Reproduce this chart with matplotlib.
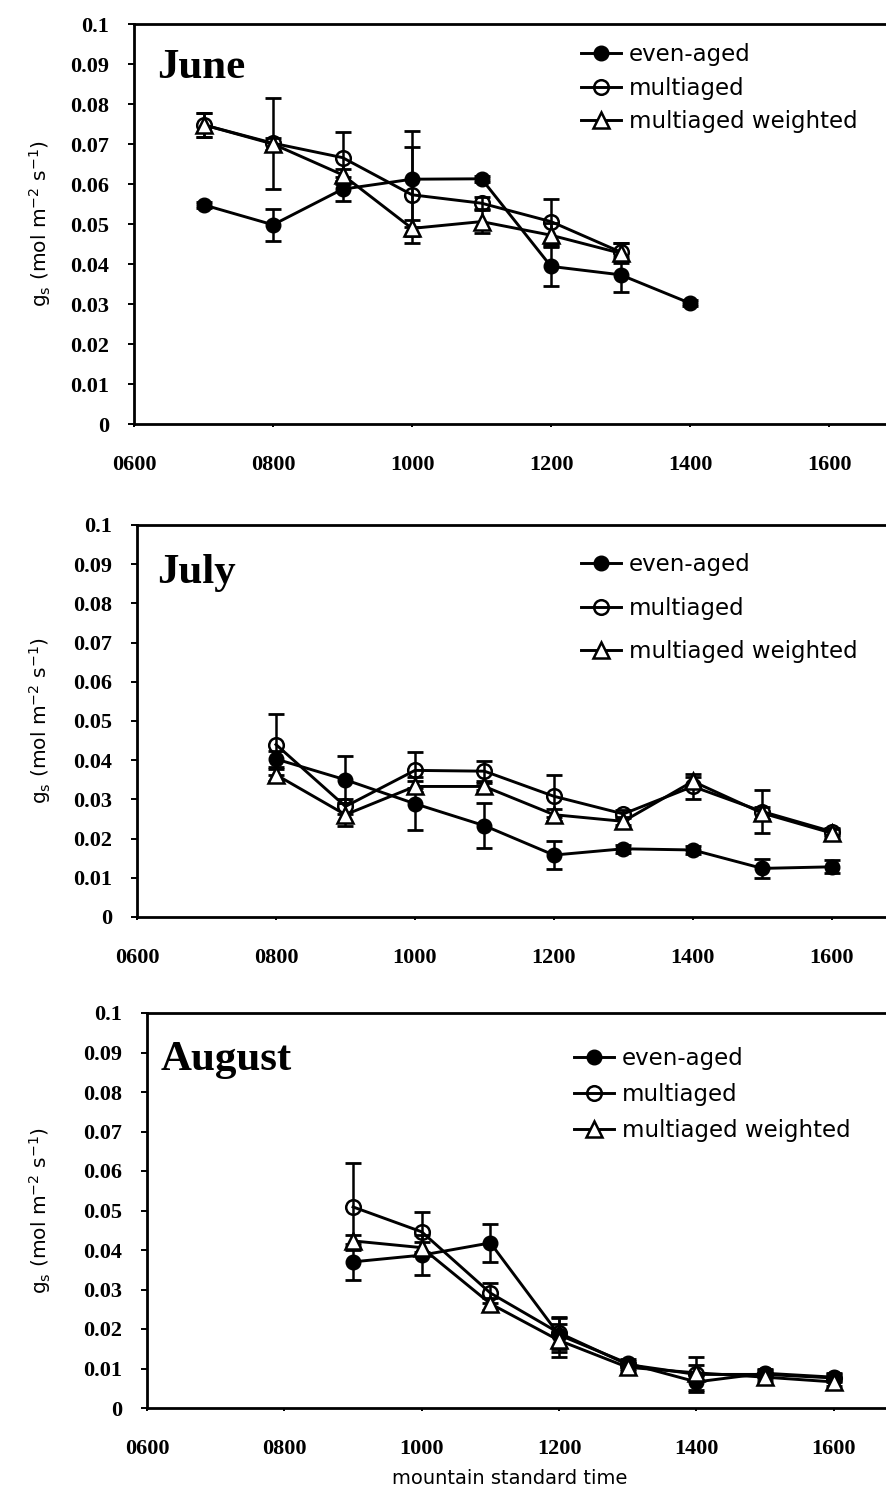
import matplotlib
matplotlib.use("Agg")
import matplotlib.pyplot as plt
from matplotlib.ticker import FixedLocator, FixedFormatter, FuncFormatter

# stomatal conductance, gs (mol m-2 s-1), by hour of day (mountain standard time)
labels = ["even-aged", "multiaged", "multiaged weighted"]

june_hours = [700, 800, 900, 1000, 1100, 1200, 1300, 1400]
june_even = [0.0548, 0.0498, 0.0587, 0.0612, 0.0613, 0.0394, 0.0373, 0.0302]
june_even_err = [0.0008, 0.0040, 0.0030, 0.0120, 0.0008, 0.0050, 0.0044, 0.0008]
june_multi = [0.0748, 0.0702, 0.0666, 0.0573, 0.0552, 0.0506, 0.0430]
june_multi_err = [0.0030, 0.0114, 0.0065, 0.0120, 0.0015, 0.0056, 0.0022]
june_weighted = [0.0748, 0.0700, 0.0623, 0.0489, 0.0506, 0.0472, 0.0427]
june_weighted_err = [0.0030, 0.0015, 0.0015, 0.0020, 0.0028, 0.0030, 0.0025]

july_hours = [800, 900, 1000, 1100, 1200, 1300, 1400, 1500, 1600]
july_even = [0.0403, 0.0350, 0.0289, 0.0233, 0.0158, 0.0174, 0.0171, 0.0124, 0.0128]
july_even_err = [0.0020, 0.0060, 0.0067, 0.0057, 0.0035, 0.0010, 0.0010, 0.0025, 0.0017]
july_multi = [0.0440, 0.0282, 0.0374, 0.0372, 0.0308, 0.0263, 0.0333, 0.0269, 0.0218]
july_multi_err = [0.0077, 0.0020, 0.0046, 0.0025, 0.0053, 0.0010, 0.0032, 0.0055, 0.0010]
july_weighted = [0.0363, 0.0261, 0.0333, 0.0333, 0.0261, 0.0244, 0.0346, 0.0265, 0.0214]
july_weighted_err = [0.0015, 0.0030, 0.0015, 0.0010, 0.0015, 0.0010, 0.0010, 0.0015, 0.0010]

aug_hours = [900, 1000, 1100, 1200, 1300, 1400, 1500, 1600]
aug_even = [0.0370, 0.0387, 0.0418, 0.0185, 0.0113, 0.0066, 0.0088, 0.0078]
aug_even_err = [0.0045, 0.0050, 0.0048, 0.0042, 0.0010, 0.0020, 0.0010, 0.0010]
aug_multi = [0.0509, 0.0446, 0.0291, 0.0190, 0.0110, 0.0085, 0.0085, 0.0076]
aug_multi_err = [0.0110, 0.0050, 0.0025, 0.0040, 0.0010, 0.0045, 0.0010, 0.0010]
aug_weighted = [0.0423, 0.0406, 0.0264, 0.0171, 0.0103, 0.0089, 0.0078, 0.0066]
aug_weighted_err = [0.0015, 0.0015, 0.0015, 0.0042, 0.0010, 0.0020, 0.0010, 0.0010]

y_ticks = [0, 0.01, 0.02, 0.03, 0.04, 0.05, 0.06, 0.07, 0.08, 0.09, 0.1]
y_ticklabels = ["0", "0.01", "0.02", "0.03", "0.04", "0.05", "0.06", "0.07", "0.08", "0.09", "0.1"]
x_ticks = [600, 800, 1000, 1200, 1400, 1600]

W, H = 886, 1496
fig = plt.figure(figsize=(W / 100, H / 100), dpi=100)

serif = "Liberation Serif"
sans = "DejaVu Sans"

def px_axes(left, right, top, bottom):
    return fig.add_axes([left / W, 1 - bottom / H, (right - left) / W, (bottom - top) / H])

def panel(ax, month, hours, even, even_err, multi, multi_err, wt, wt_err,
          xmax, title_xy, leg_xy, leg_space):
    lw = 2.1
    for ys, es in ((even, even_err), (multi, multi_err), (wt, wt_err)):
        ax.errorbar(hours[:len(ys)], ys, yerr=es, fmt="none", ecolor="black",
                    elinewidth=1.8, capsize=5.5, capthick=2.0, zorder=2)
    l1, = ax.plot(hours[:len(even)], even, "-o", color="black", lw=lw, ms=10.5,
                  mfc="black", mec="black", zorder=3)
    l2, = ax.plot(hours[:len(multi)], multi, "-o", color="black", lw=lw, ms=10.5,
                  mfc="none", mec="black", mew=1.8, zorder=4)
    l3, = ax.plot(hours[:len(wt)], wt, "-^", color="black", lw=lw, ms=11,
                  mfc="white", mec="black", mew=1.8, zorder=5)

    ax.set_xlim(600, xmax)
    ax.set_ylim(0, 0.1)
    ax.yaxis.set_major_locator(FixedLocator(y_ticks))
    ax.yaxis.set_major_formatter(FixedFormatter(y_ticklabels))
    ax.xaxis.set_major_locator(FixedLocator(x_ticks))
    ax.xaxis.set_major_formatter(FuncFormatter(lambda v, p: "%04d" % int(v)))
    ax.tick_params(axis="y", direction="out", length=4, width=1.4, pad=14)
    ax.tick_params(axis="x", direction="out", length=2, width=1.4, pad=20)
    for lab in ax.get_xticklabels() + ax.get_yticklabels():
        lab.set_fontfamily(serif)
        lab.set_fontweight("bold")
        lab.set_fontsize(16)
    ax.spines["right"].set_visible(False)
    for s in ("left", "bottom", "top"):
        ax.spines[s].set_linewidth(2.0)

    ax.text(title_xy[0], title_xy[1], month, transform=ax.transAxes,
            fontfamily=serif, fontweight="bold", fontsize=31, va="baseline")

    ax.legend([l1, l2, l3], labels, loc="upper left",
              bbox_to_anchor=(leg_xy[0] / W, 1 - leg_xy[1] / H),
              bbox_transform=fig.transFigure, frameon=False, borderpad=0,
              borderaxespad=0, handlelength=1.75, handletextpad=0.35,
              labelspacing=leg_space, prop={"family": sans, "size": 16.5})

    mid = ax.get_position().y0 + ax.get_position().height / 2
    fig.text(40 / W, mid, "g$_\\mathregular{s}$ (mol m$^{\\mathregular{-2}}$ s$^{\\mathregular{-1}}$)",
             rotation=90, ha="center", va="center", fontfamily=sans, fontsize=14.5)


ax1 = px_axes(134, 886, 24, 424)
panel(ax1, "June", june_hours, june_even, june_even_err, june_multi, june_multi_err,
      june_weighted, june_weighted_err, 1682, (0.031, 0.865), (581, 43), 0.46)

ax2 = px_axes(137, 886, 525, 917)
panel(ax2, "July", july_hours, july_even, july_even_err, july_multi, july_multi_err,
      july_weighted, july_weighted_err, 1678, (0.027, 0.852), (581, 553), 0.90)

ax3 = px_axes(147, 886, 1013, 1408)
panel(ax3, "August", aug_hours, aug_even, aug_even_err, aug_multi, aug_multi_err,
      aug_weighted, aug_weighted_err, 1676, (0.019, 0.856), (574, 1047), 0.57)

fig.text(510 / W, 1 - 1478 / H, "mountain standard time", ha="center", va="center",
         fontfamily=sans, fontsize=14)

fig.savefig("out.png", dpi=100)
